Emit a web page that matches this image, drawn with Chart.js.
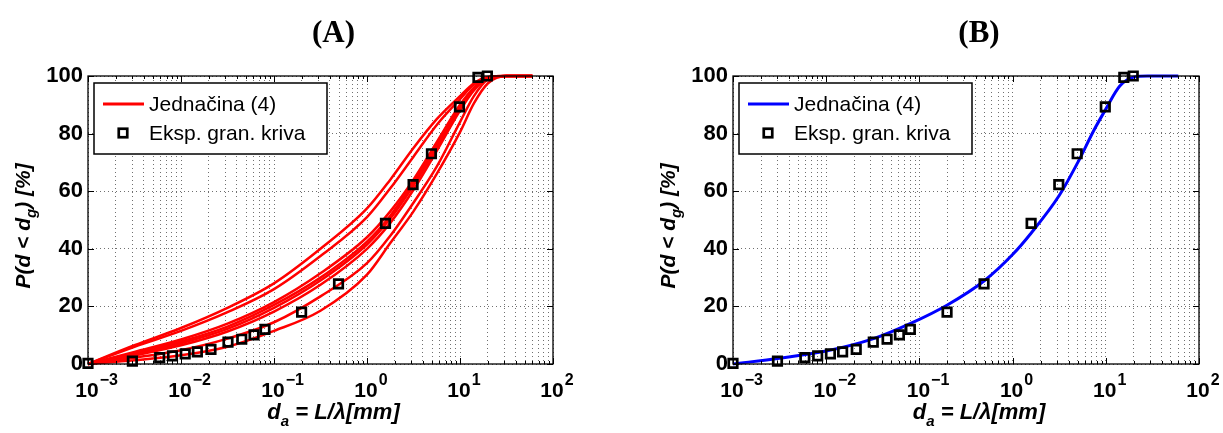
<!DOCTYPE html>
<html>
<head>
<meta charset="utf-8">
<script src="https://cdn.jsdelivr.net/npm/chart.js@4.4.0/dist/chart.umd.min.js"></script>
<style>
  html, body { margin: 0; padding: 0; background: #fff; }
  #wrap { position: relative; width: 1223px; height: 433px; }
  canvas { position: absolute; top: 0; }
</style>
</head>
<body>
<div id="wrap">
  <canvas id="chartA" width="612" height="433" style="left:0"></canvas>
  <canvas id="chartB" width="611" height="433" style="left:612px"></canvas>
</div>
<script>
// experimental grading curve (same squares in both panels)
const expD = [0.001, 0.003, 0.0059, 0.0081, 0.0111, 0.015, 0.021, 0.032, 0.045, 0.061, 0.080, 0.198, 0.494, 1.58, 3.13, 4.93, 9.87, 15.6, 19.7];
const expP = [0.2, 1.0, 2.2, 2.8, 3.5, 4.2, 5.1, 7.6, 8.6, 10.1, 12.0, 18.0, 27.8, 48.8, 62.3, 73.0, 89.3, 99.5, 100];

// panel A - family of curves from equation (4)
const curveD = [0.001, 0.00316, 0.01, 0.0316, 0.1, 0.316, 1, 1.78, 3.16, 5.62, 10, 14.1, 20, 31.6, 60];
const curveA1 = [0, 6.5, 12.5, 19.5, 28, 40, 54, 64, 75, 85, 93, 97.5, 99.7, 100, 100];
const curveA2 = [0, 6, 11.5, 18, 26, 37.5, 51, 61, 72, 83, 92, 97, 99.6, 100, 100];
const curveA3 = [0, 4.2, 8.5, 14, 21.5, 31.5, 44, 53, 64, 77, 90, 96, 99.5, 100, 100];
const curveA4 = [0, 3.8, 7.8, 13, 20.5, 30, 42.5, 51.5, 63, 76, 89.5, 95.7, 99.4, 100, 100];
const curveA5 = [0, 3.4, 7.2, 12.2, 19.5, 29, 41.5, 50.5, 62, 75, 89, 95.5, 99.3, 100, 100];
const curveA6 = [0, 3, 6.5, 11.3, 18.2, 27.5, 40, 49, 60.5, 74, 88, 95, 99.2, 100, 100];
const curveA7 = [0, 2.2, 4.8, 8.8, 14.5, 23.5, 35, 44.5, 56, 68.5, 84, 93, 98.8, 100, 100];
const curveA8 = [0, 1.3, 3, 6, 11.5, 18.5, 31, 42, 53, 66, 80.5, 90.5, 97.5, 100, 100];

// panel B - single fitted curve
const fitD = [0.001, 0.00316, 0.01, 0.0316, 0.0794, 0.1995, 0.501, 1, 1.585, 3.162, 5.01, 7.41, 10, 14.13, 19.95, 28.18, 60];
const fitP = [0, 2, 4.5, 8.7, 14, 20.5, 29, 38, 45.5, 58.5, 70, 81, 88.5, 96.5, 99.6, 100, 100];

// axes
const decadeTicks = [0.001, 0.01, 0.1, 1, 10, 100];
const decadeExps = ['\u22123', '\u22122', '\u22121', '0', '1', '2'];
const yTicks = [0, 20, 40, 60, 80, 100];

const FONT = '"Liberation Sans", Arial, sans-serif';

// minor grid: 1..9 x each decade
const gridTicks = [];
for (let i = 0; i < decadeTicks.length - 1; i++) {
  for (let k = 1; k <= 9; k++) gridTicks.push(k === 1 ? decadeTicks[i] : k * decadeTicks[i]);
}
gridTicks.push(decadeTicks[decadeTicks.length - 1]);

function pts(xs, ys) {
  return xs.map(function (x, i) { return { x: x, y: ys[i] }; });
}

function squares() {
  return {
    label: 'Eksp. gran. kriva',
    data: pts(expD, expP),
    pointStyle: 'rect',
    pointRadius: 6,
    borderWidth: 2.7,
    borderColor: '#000',
    backgroundColor: 'rgba(0,0,0,0)',
    showLine: false,
    clip: false,
    order: 0
  };
}

function curve(label, ys, xs, color, width) {
  return {
    label: label,
    data: pts(xs, ys),
    showLine: true,
    borderColor: color,
    borderWidth: width,
    pointRadius: 0,
    cubicInterpolationMode: 'monotone',
    clip: false,
    order: 1
  };
}

// text made of normal / subscript parts
function partsWidth(ctx, parts, size, sub) {
  let w = 0;
  parts.forEach(function (p) {
    ctx.font = 'italic bold ' + (p[1] ? sub : size) + 'px ' + FONT;
    w += ctx.measureText(p[0]).width;
  });
  return w;
}
function drawParts(ctx, parts, x, y, size, sub, drop) {
  let cx = x;
  parts.forEach(function (p) {
    ctx.font = 'italic bold ' + (p[1] ? sub : size) + 'px ' + FONT;
    ctx.fillText(p[0], cx, y + (p[1] ? drop : 0));
    cx += ctx.measureText(p[0]).width;
  });
}

const xLabel = [['d', false], ['a', true], [' = L/\u03bb[mm]', false]];
const yLabel = [['P(d < d', false], ['g', true], [') [%]', false]];

const framePlugin = {
  id: 'frame',
  afterDraw: function (chart, args, o) {
    const ctx = chart.ctx;
    const a = chart.chartArea;
    const xs = chart.scales.x, ys = chart.scales.y;
    ctx.save();

    // box + inward ticks
    ctx.strokeStyle = '#000';
    ctx.lineWidth = 1.3;
    ctx.strokeRect(a.left, a.top, a.right - a.left, a.bottom - a.top);
    ctx.lineWidth = 1;
    ctx.beginPath();
    xs.ticks.forEach(function (t) {
      const px = Math.round(xs.getPixelForValue(t.value)) + 0.5;
      const len = decadeTicks.indexOf(t.value) >= 0 ? 6 : 3;
      ctx.moveTo(px, a.bottom); ctx.lineTo(px, a.bottom - len);
      ctx.moveTo(px, a.top); ctx.lineTo(px, a.top + len);
    });
    ys.ticks.forEach(function (t) {
      const py = Math.round(ys.getPixelForValue(t.value)) + 0.5;
      ctx.moveTo(a.left, py); ctx.lineTo(a.left + 6, py);
      ctx.moveTo(a.right, py); ctx.lineTo(a.right - 6, py);
    });
    ctx.stroke();

    // x tick labels 10^n
    ctx.fillStyle = '#000';
    ctx.textAlign = 'left';
    ctx.textBaseline = 'alphabetic';
    decadeTicks.forEach(function (v, i) {
      const px = xs.getPixelForValue(v);
      ctx.font = 'bold 21px ' + FONT;
      const w = ctx.measureText('10').width;
      ctx.fillText('10', px - w / 2 - 1, a.bottom + 33);
      ctx.font = 'bold 16px ' + FONT;
      ctx.fillText(decadeExps[i], px + w / 2, a.bottom + 21);
    });

    // axis titles
    const cx = (a.left + a.right) / 2 + 13;
    const xw = partsWidth(ctx, xLabel, 22, 15);
    drawParts(ctx, xLabel, cx - xw / 2, 419, 22, 15, 7);

    ctx.save();
    ctx.translate(a.left - 58, (a.top + a.bottom) / 2 + 6);
    ctx.rotate(-Math.PI / 2);
    const yw = partsWidth(ctx, yLabel, 21, 15);
    drawParts(ctx, yLabel, -yw / 2, 0, 21, 15, 6);
    ctx.restore();

    // panel title
    ctx.font = 'bold 31px "Liberation Serif", "Times New Roman", serif';
    ctx.textAlign = 'center';
    ctx.textBaseline = 'middle';
    ctx.fillText(o.title, cx, 34);

    // legend box
    const lx = a.left + 6, ly = a.top + 7;
    ctx.fillStyle = '#fff';
    ctx.fillRect(lx, ly, 233, 71);
    ctx.strokeStyle = '#000';
    ctx.lineWidth = 1.5;
    ctx.strokeRect(lx, ly, 233, 71);
    const ds = chart.data.datasets;
    const lineDs = ds.find(function (d) { return d.showLine; });
    const markDs = ds.find(function (d) { return !d.showLine; });
    ctx.strokeStyle = lineDs.borderColor;
    ctx.lineWidth = 3;
    ctx.beginPath();
    ctx.moveTo(lx + 9, ly + 21);
    ctx.lineTo(lx + 50, ly + 21);
    ctx.stroke();
    ctx.strokeStyle = '#000';
    ctx.lineWidth = 2.7;
    ctx.strokeRect(lx + 29 - 4.25, ly + 50 - 4.25, 8.5, 8.5);
    ctx.fillStyle = '#000';
    ctx.font = '21px ' + FONT;
    ctx.textAlign = 'left';
    ctx.fillText(lineDs.label, lx + 55, ly + 22);
    ctx.fillText(markDs.label, lx + 55, ly + 51);

    ctx.restore();
  }
};

function makeChart(id, title, datasets, yWidth, padRight) {
  const dotted = { display: false, dash: [1, 3] };
  const grid = { color: '#707070', lineWidth: 1, drawTicks: false };
  return new Chart(document.getElementById(id), {
    type: 'scatter',
    data: { datasets: datasets },
    options: {
      responsive: false,
      animation: false,
      devicePixelRatio: 1,
      events: [],
      layout: { padding: { left: 0, right: padRight, top: 76, bottom: 0 } },
      plugins: {
        legend: { display: false },
        tooltip: { enabled: false },
        frame: { title: title }
      },
      scales: {
        x: {
          type: 'logarithmic',
          min: 0.001,
          max: 100,
          afterBuildTicks: function (s) { s.ticks = gridTicks.map(function (v) { return { value: v }; }); },
          afterFit: function (s) { s.height = 69; },
          ticks: { display: false },
          grid: grid,
          border: dotted
        },
        y: {
          min: 0,
          max: 100,
          afterBuildTicks: function (s) { s.ticks = yTicks.map(function (v) { return { value: v }; }); },
          afterFit: function (s) { s.width = yWidth; },
          ticks: { color: '#000', padding: 5, font: { family: FONT, size: 22, weight: 'bold' } },
          grid: grid,
          border: dotted
        }
      }
    },
    plugins: [framePlugin]
  });
}

const red = '#ff0000';
const chartA = makeChart('chartA', '(A)', [
  squares(),
  curve('Jednačina (4)', curveA1, curveD, red, 2.5),
  curve('', curveA2, curveD, red, 2.5),
  curve('', curveA3, curveD, red, 2.5),
  curve('', curveA4, curveD, red, 2.5),
  curve('', curveA5, curveD, red, 2.5),
  curve('', curveA6, curveD, red, 2.5),
  curve('', curveA7, curveD, red, 2.5),
  curve('', curveA8, curveD, red, 2.5)
], 88, 59);

const chartB = makeChart('chartB', '(B)', [
  squares(),
  curve('Jednačina (4)', fitP, fitD, '#0000ff', 3)
], 121, 24);
</script>
</body>
</html>
